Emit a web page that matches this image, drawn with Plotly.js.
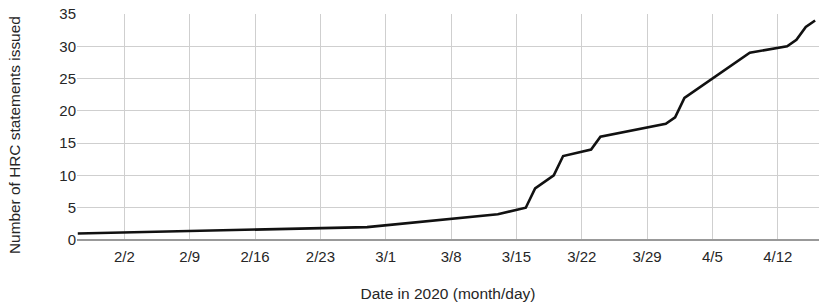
<!DOCTYPE html>
<html>
<head>
<meta charset="utf-8">
<script src="https://cdn.plot.ly/plotly-3.0.1.min.js"></script>
<style>html,body{margin:0;padding:0;background:#fff;}#chart{width:819px;height:303px;}</style>
</head>
<body>
<div id="chart"></div>
<script>
const dates = ["2020-01-28","2020-02-28","2020-03-13","2020-03-16","2020-03-17","2020-03-19","2020-03-20","2020-03-23","2020-03-24","2020-03-31","2020-04-01","2020-04-02","2020-04-09","2020-04-13","2020-04-14","2020-04-15","2020-04-16"];
const statements = [1,2,4,5,8,10,13,14,16,18,19,22,29,30,31,33,34];
const tickDates = ["2020-02-02","2020-02-09","2020-02-16","2020-02-23","2020-03-01","2020-03-08","2020-03-15","2020-03-22","2020-03-29","2020-04-05","2020-04-12"];
const tickLabels = ["2/2","2/9","2/16","2/23","3/1","3/8","3/15","3/22","3/29","4/5","4/12"];
const yTicks = [0,5,10,15,20,25,30,35];
const xTitle = "Date in 2020 (month/day)";
const yTitle = "Number of HRC statements issued";

const fam = "Liberation Sans, Arial, sans-serif";
const txt = "#262626";
Plotly.newPlot("chart", [{
  x: dates, y: statements, type: "scatter", mode: "lines",
  line: {color: "#111", width: 2.6}, hoverinfo: "skip"
}], {
  width: 819, height: 303,
  margin: {l: 77, r: 0, t: 14, b: 63},
  paper_bgcolor: "#fff", plot_bgcolor: "#fff",
  font: {family: fam, size: 15, color: txt},
  showlegend: false,
  xaxis: {
    type: "date",
    range: ["2020-01-27T22:00", "2020-04-16T10:00"],
    tickvals: tickDates, ticktext: tickLabels,
    showgrid: true, gridcolor: "#cfcfcf", gridwidth: 1,
    zeroline: false, showline: false, ticks: "",
    ticklabelstandoff: 6,
    tickfont: {family: fam, size: 15, color: txt},
    title: {text: xTitle, font: {family: fam, size: 15.5, color: txt}, standoff: 24}
  },
  yaxis: {
    range: [0, 35],
    tickvals: yTicks,
    showgrid: true, gridcolor: "#cfcfcf", gridwidth: 1,
    zeroline: true, zerolinecolor: "#999", zerolinewidth: 2.5,
    showline: false, ticks: "",
    tickfont: {family: fam, size: 15, color: txt}
  },
  annotations: [{
    text: yTitle, textangle: -90, showarrow: false,
    xref: "paper", yref: "paper", x: 0, y: 0.4646,
    xanchor: "center", yanchor: "middle", xshift: -63,
    font: {family: fam, size: 15.4, color: txt}
  }]
}, {staticPlot: true});
</script>
</body>
</html>
